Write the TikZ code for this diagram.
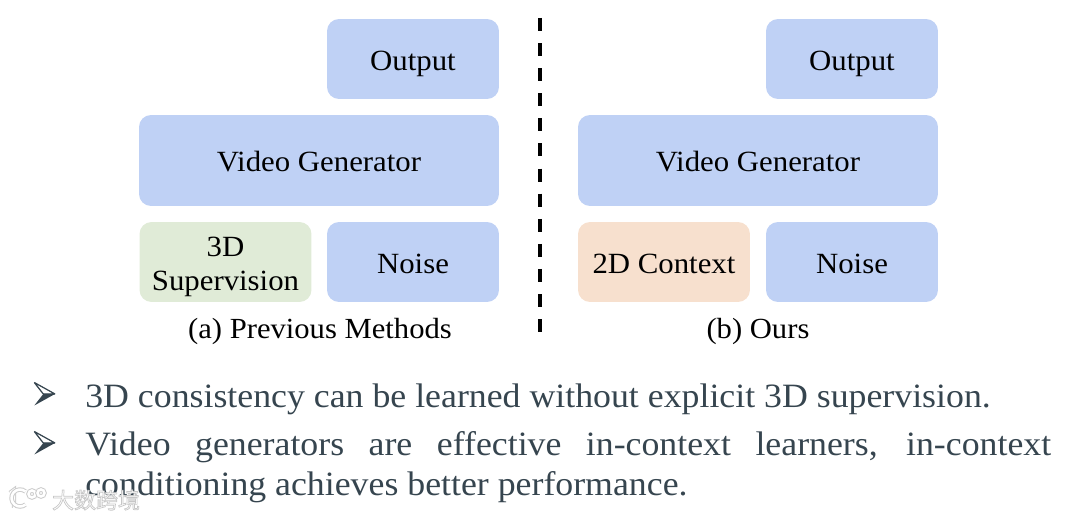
\documentclass[tikz,border=0pt]{standalone}
\usepackage{fontspec}
\setmainfont[FakeStretch=1.05]{Liberation Serif}
\newfontfamily\cjkwm{Noto Sans CJK SC}
\definecolor{boxblue}{HTML}{BFD1F5}
\definecolor{boxgreen}{HTML}{E0EBD7}
\definecolor{boxorange}{HTML}{F7E0CE}
\definecolor{slate}{HTML}{36454F}
\newcommand{\halotext}[1]{\special{pdf:code q 2 Tr 0.4 w 0.78 G 1 g}#1\special{pdf:code Q}}
\tikzset{
  block/.style={rounded corners=0.24cm,align=center,text=black,inner sep=0pt,font=\fontsize{16.7}{19}\selectfont},
  small/.style={block,minimum width=3.44cm,minimum height=1.6cm,text height=0.48cm,text depth=0pt},
  wide/.style={block,minimum width=7.2cm,minimum height=1.82cm,fill=boxblue,text height=0.46cm,text depth=0pt},
  caption/.style={text=black,inner sep=0pt,font=\fontsize{16.6}{19}\selectfont},
  point/.style={text=slate,inner sep=0pt,anchor=north west,font=\fontsize{19.4}{22.6}\selectfont},
  logo/.style={draw=black!20,double=white,double distance=0.05cm,line width=0.02cm},
}
\begin{document}
\begin{tikzpicture}[x=0.02cm,y=-0.02cm,line cap=butt]
  \useasboundingbox (0,0) rectangle (1080,520);
  \node[small,fill=boxblue] (outa) at (413,59) {Output};
  \node[wide] (gena) at (319,160.5) {Video Generator};
  \node[block,minimum width=3.44cm,minimum height=1.6cm,fill=boxgreen] (supa) at (225.5,262) {};
  \node[inner sep=0pt,align=center,text=black,font=\fontsize{16.7}{19}\selectfont] (supl) at (225.5,267) {3D\\Supervision};
  \node[small,fill=boxblue] (noisea) at (413,262) {Noise};
  \node[caption] (capa) at (320,331) {(a) Previous Methods};
  \node[small,fill=boxblue] (outb) at (852,59) {Output};
  \node[wide] (genb) at (758,160.5) {Video Generator};
  \node[small,fill=boxorange] (ctxb) at (664,262) {2D Context};
  \node[small,fill=boxblue] (noiseb) at (852,262) {Noise};
  \node[caption] (capb) at (758,331) {(b) Ours};
  \coordinate (top) at (540,18);
  \coordinate (bot) at (540,332);
  \draw[line width=0.08cm,dash pattern=on 0.26cm off 0.242cm] (top) -- (bot);
  \foreach \ypos in {394,443} {
    \draw[slate,line width=0.025cm,line join=bevel] (34.3,\ypos-11.5) -- (55,\ypos) -- (43.3,\ypos) -- cycle;
    \fill[slate] (34.3,\ypos+11.5) -- (55,\ypos) -- (43.3,\ypos) -- cycle;
  }
  \node[point] (txt1) at (85,383) {3D consistency can be learned without explicit 3D supervision.};
  \node[point,text width=19.32cm,align=justify] (txt2) at (85,431) {Video generators are effective in-context learners, in-context\linebreak conditioning achieves better performance.};
  \draw[logo] (10,493) -- (14,490) -- (14,508);
  \draw[logo] (25.5,491.5) arc (-50:-310:8.5);
  \draw[logo] (32,494) circle (3.5);
  \draw[logo] (41,493) circle (3.5);
  \node[inner sep=0pt,font=\cjkwm\fontsize{12.5}{14}\selectfont] (mark) at (96,500) {\halotext{大数跨境}};
\end{tikzpicture}
\end{document}
